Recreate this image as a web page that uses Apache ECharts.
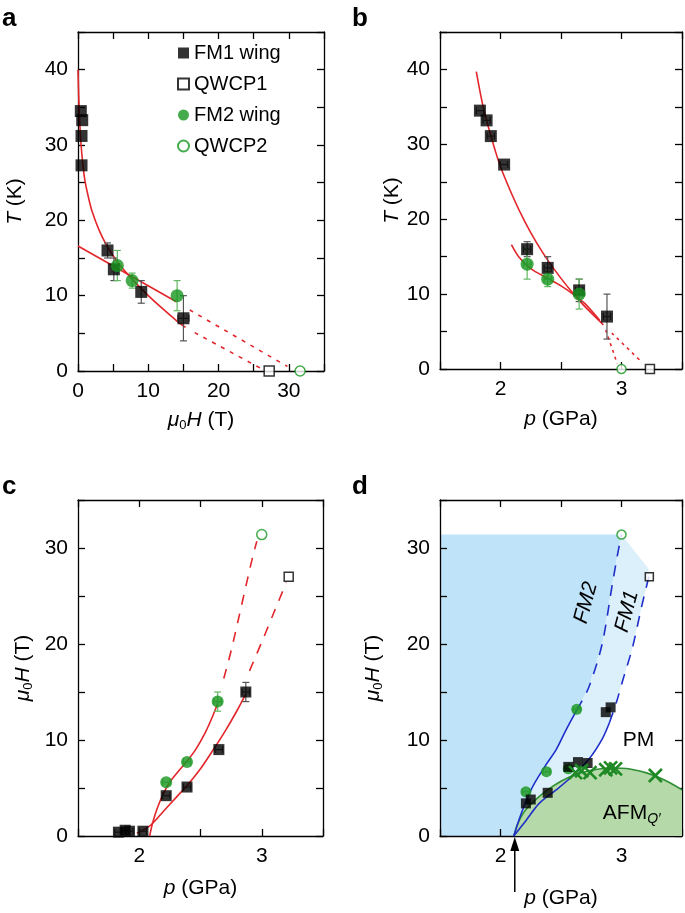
<!DOCTYPE html>
<html><head><meta charset="utf-8">
<script src="https://cdn.jsdelivr.net/npm/echarts@6/dist/echarts.min.js"></script>
<style>html,body{margin:0;padding:0;background:#fff}#c{width:685px;height:913px}</style>
</head><body><div id="c"></div>
<script>
// ---------- Panel a : T vs mu0H ----------
const aFM1_H = [0.4, 0.6, 0.5, 0.5, 4.2, 5.1, 9.0, 15.0];
const aFM1_T = [34.5, 33.3, 31.2, 27.3, 16.0, 13.5, 10.5, 7.0];
const aFM1_Herr = [0, 0, 0, 0, 0, 0, 0, 0.8];
const aFM1_Terr = [0, 0, 0, 0, 1, 1.5, 1.5, 3];
const aFM2_H = [5.6, 7.7, 14.1];
const aFM2_T = [14.0, 12.0, 10.0];
const aFM2_Terr = [2, 1, 2];
const aQWCP1 = [27.2, 0];
const aQWCP2 = [31.6, 0];
const aFit1_H = [0, 0.1, 0.2, 0.4, 0.7, 1, 1.5, 2, 3, 4, 5, 6, 8, 10, 12, 14, 15.3];
const aFit1_T = [40, 36.5, 34, 30.5, 27.3, 25.2, 23.0, 21.2, 18.7, 16.8, 15.3, 14.0, 11.9, 10.0, 8.3, 6.7, 5.8];
const aFit2_H = [0, 14.0];
const aFit2_T = [16.6, 9.2];
const aDash1_H = [16.6, 25.9];
const aDash1_T = [5.1, 0.4];
const aDash2_H = [15.9, 29.8];
const aDash2_T = [8.1, 0.6];

// ---------- Panel b : T vs p ----------
const bFM1_p = [1.83, 1.885, 1.92, 2.03, 2.22, 2.39, 2.65, 2.88];
const bFM1_T = [34.5, 33.2, 31.1, 27.3, 16.0, 13.5, 10.5, 7.0];
const bFM1_Terr = [0, 0, 0, 0, 1, 1.5, 1.5, 3];
const bFM2_p = [2.22, 2.39, 2.65];
const bFM2_T = [14.0, 12.0, 10.0];
const bFM2_Terr = [2, 1, 2];
const bPerr = 0.03;
const bQWCP1 = [3.235, 0];
const bQWCP2 = [3.0, 0];
const bFit1_p = [1.8, 1.85, 1.9, 1.95, 2.0, 2.1, 2.2, 2.3, 2.4, 2.5, 2.6, 2.7, 2.8, 2.85];
const bFit1_T = [39.7, 35.5, 32.3, 29.5, 27.0, 23.1, 19.7, 16.8, 14.3, 12.1, 10.1, 8.3, 6.7, 5.9];
const bFit2_p = [2.09, 2.15, 2.25, 2.39, 2.5, 2.6, 2.7, 2.82];
const bFit2_T = [16.6, 15.0, 13.4, 12.1, 11.1, 10.0, 8.7, 6.5];
const bDash1_p = [2.92, 3.15];
const bDash1_T = [4.8, 1.2];
const bDash2_p = [2.87, 2.965];
const bDash2_T = [5.2, 0.7];

// ---------- Panel c : mu0H vs p ----------
const cFM1_p = [1.83, 1.885, 1.92, 2.03, 2.22, 2.39, 2.65, 2.87];
const cFM1_H = [0.4, 0.6, 0.5, 0.5, 4.2, 5.1, 9.0, 15.0];
const cFM1_Herr = [0, 0, 0, 0, 0, 0, 0, 1];
const cFM2_p = [2.22, 2.39, 2.64];
const cFM2_H = [5.6, 7.7, 14.0];
const cFM2_Herr = [0, 0, 1];
const cQWCP1 = [3.22, 27.0];
const cQWCP2 = [3.0, 31.4];
const cFit1_p = [1.98, 2.03, 2.1, 2.2, 2.3, 2.4, 2.5, 2.6, 2.7, 2.8, 2.87];
const cFit1_H = [0.3, 0.6, 1.2, 2.6, 4.0, 5.4, 7.0, 8.9, 10.9, 13.1, 14.8];
const cFit2_p = [2.085, 2.11, 2.15, 2.2, 2.26, 2.33, 2.39, 2.46, 2.54, 2.6, 2.64];
const cFit2_H = [0, 1.4, 3.0, 4.5, 5.8, 6.9, 7.8, 9.0, 10.8, 12.5, 13.8];
const cDash1_p = [2.9, 3.0, 3.1, 3.2];
const cDash1_H = [17.2, 20.2, 23.3, 26.4];
const cDash2_p = [2.69, 2.75, 2.81, 2.87, 2.93, 2.96];
const cDash2_H = [16.4, 19.3, 22.6, 26.0, 29.3, 30.7];

// ---------- Panel d : phase diagram ----------
const dFM2pts_p = [2.21, 2.38, 2.56, 2.63];
const dFM2pts_H = [4.6, 6.7, 7.0, 13.2];
const dFM1pts_p = [2.21, 2.25, 2.39, 2.56, 2.64, 2.72, 2.87, 2.91];
const dFM1pts_H = [3.4, 3.8, 4.5, 7.2, 7.7, 7.6, 12.9, 13.4];
const dQWCP1 = [3.23, 27.0];
const dQWCP2 = [3.0, 31.4];
const dAFM_p = [2.62, 2.67, 2.74, 2.87, 2.91, 2.95, 3.28];
const dAFM_H = [6.6, 6.8, 6.6, 6.9, 7.1, 7.0, 6.3];
const dFM2sol_p = [2.11, 2.17, 2.26, 2.37, 2.46, 2.54, 2.63];
const dFM2sol_H = [0, 2.3, 5.0, 7.3, 9.0, 11.0, 13.1];
const dFM2dash_p = [2.63, 2.73, 2.84, 2.92, 2.97, 3.0];
const dFM2dash_H = [13.1, 15.5, 20.0, 25.9, 29.5, 31.4];
const dFM1sol_p = [2.11, 2.21, 2.32, 2.46, 2.59, 2.73, 2.84, 2.9];
const dFM1sol_H = [0, 1.6, 3.4, 4.8, 6.2, 8.0, 10.1, 11.8];
const dFM1dash_p = [2.9, 2.96, 3.01, 3.09, 3.17, 3.23];
const dFM1dash_H = [11.8, 14.0, 16.2, 19.6, 24.1, 27.2];
const dDome_p = [2.11, 2.14, 2.2, 2.3, 2.4, 2.5, 2.6, 2.7, 2.8, 2.9, 3.0, 3.1, 3.2, 3.3, 3.4, 3.5];
const dDome_H = [0, 1.2, 2.6, 3.9, 4.9, 5.7, 6.3, 6.7, 6.95, 7.05, 7.05, 6.9, 6.6, 6.15, 5.55, 4.8];
const dFMtop = 31.4;     // upper boundary of FM2 shading
const dFM1corner = [3.22, 27.9];

// ---------- helpers ----------
const FONT = '"Liberation Sans", Arial, Helvetica, sans-serif';
const RED = '#e3262b', BLUE = '#1f2fc9', GREEN = '#17961f', GREENBAR = '#62b862', GREY = '#555';
const zip = (xs, ys) => xs.map((x, i) => [x, ys[i]]);
const zip4 = (xs, ys, ex, ey) => xs.map((x, i) => [x, ys[i], Array.isArray(ex) ? ex[i] : ex, Array.isArray(ey) ? ey[i] : ey]);

function axisBase() {
  return {
    type: 'value',
    axisLine: { show: true, onZero: false, lineStyle: { color: '#000', width: 1.3 } },
    axisTick: { show: true, inside: true, length: 7, lineStyle: { color: '#000', width: 1.3 } },
    splitLine: { show: false },
    axisLabel: { color: '#000', fontSize: 21, fontFamily: FONT, margin: 10 }
  };
}
const lbl10 = v => (Math.round(v) % 10 === 0 ? String(Math.round(v)) : '');
const lblP = v => (Math.abs(v - Math.round(v)) < 1e-6 && v > 1.9 && v < 3.1 ? String(Math.round(v)) : '');
const nameStyle = { fontSize: 21, fontFamily: FONT, color: '#000',
  rich: { i: { fontSize: 21, fontStyle: 'italic', fontFamily: FONT, color: '#000' },
          s: { fontSize: 13, fontFamily: FONT, color: '#000', padding: [10, 0, 0, 0] },
          n: { fontSize: 21, fontFamily: FONT, color: '#000' } } };
const nameH = '{i|μ}{s|0}{i|H}{n| (T)}';
const nameT = '{i|T}{n| (K)}';
const nameP = '{i|p}{n| (GPa)}';

function xBottom(g, min, max, interval, fmt, name, gap) {
  return Object.assign(axisBase(), { gridIndex: g, position: 'bottom', min, max, interval,
    axisLabel: Object.assign(axisBase().axisLabel, { formatter: fmt }),
    name, nameLocation: 'middle', nameGap: gap, nameTextStyle: nameStyle });
}
function xTop(g, min, max, interval) {
  return Object.assign(axisBase(), { gridIndex: g, position: 'top', min, max, interval,
    axisLabel: { show: false } });
}
function yLeft(g, min, max, interval, fmt, name, gap) {
  return Object.assign(axisBase(), { gridIndex: g, position: 'left', min, max, interval,
    axisLabel: Object.assign(axisBase().axisLabel, { formatter: fmt }),
    name, nameLocation: 'middle', nameGap: gap, nameTextStyle: nameStyle });
}
function yRight(g, min, max, interval) {
  return Object.assign(axisBase(), { gridIndex: g, position: 'right', min, max, interval,
    axisLabel: { show: false } });
}

function errSeries(g, data, color) {
  return { type: 'custom', xAxisIndex: g, yAxisIndex: g, data, z: 3, silent: true,
    encode: { x: 0, y: 1 },
    renderItem(params, api) {
      const x = api.value(0), y = api.value(1), ex = api.value(2), ey = api.value(3);
      const cap = 3.5, ch = [];
      const ln = (x1, y1, x2, y2) => ({ type: 'line', shape: { x1, y1, x2, y2 }, style: { stroke: color, lineWidth: 1.2 } });
      if (ey > 0) {
        const p1 = api.coord([x, y - ey]), p2 = api.coord([x, y + ey]);
        ch.push(ln(p1[0], p1[1], p2[0], p2[1]), ln(p1[0] - cap, p1[1], p1[0] + cap, p1[1]), ln(p2[0] - cap, p2[1], p2[0] + cap, p2[1]));
      }
      if (ex > 0) {
        const p1 = api.coord([x - ex, y]), p2 = api.coord([x + ex, y]);
        ch.push(ln(p1[0], p1[1], p2[0], p2[1]), ln(p1[0], p1[1] - cap, p1[0], p1[1] + cap), ln(p2[0], p2[1] - cap, p2[0], p2[1] + cap));
      }
      return { type: 'group', children: ch };
    } };
}
function lineSeries(g, data, color, dashed, dash, z) {
  return { type: 'line', xAxisIndex: g, yAxisIndex: g, data, showSymbol: false, symbol: 'none',
    smooth: 0.3, silent: true, z: z || 2,
    lineStyle: { color, width: 1.6, type: dashed ? dash : 'solid' } };
}
function squares(g, name, data, size, open, z) {
  return { type: 'scatter', name, xAxisIndex: g, yAxisIndex: g, data, symbol: 'rect', symbolSize: size, z: z || 4,
    itemStyle: open ? { color: '#fff', borderColor: '#000', borderWidth: 1.5 } : { color: '#000' } };
}
function circles(g, name, data, size, open, z) {
  return { type: 'scatter', name, xAxisIndex: g, yAxisIndex: g, data, symbol: 'circle', symbolSize: size, z: z || 4,
    itemStyle: open ? { color: '#fff', borderColor: GREEN, borderWidth: 1.5 } : { color: GREEN } };
}
function polySeries(g, pts, fill, z) {
  return { type: 'custom', xAxisIndex: g, yAxisIndex: g, data: [[pts[0][0], pts[0][1]]], z: z, silent: true,
    encode: { x: 0, y: 1 },
    renderItem(params, api) {
      return { type: 'polygon', shape: { points: pts.map(p => api.coord(p)), smooth: 0 }, style: { fill } };
    } };
}
function crossSeries(g, data, color) {
  return { type: 'custom', xAxisIndex: g, yAxisIndex: g, data, z: 5, silent: true, encode: { x: 0, y: 1 },
    renderItem(params, api) {
      const c = api.coord([api.value(0), api.value(1)]), r = 6.5;
      const st = { stroke: color, lineWidth: 2.6 };
      return { type: 'group', children: [
        { type: 'line', shape: { x1: c[0] - r, y1: c[1] - r, x2: c[0] + r, y2: c[1] + r }, style: st },
        { type: 'line', shape: { x1: c[0] - r, y1: c[1] + r, x2: c[0] + r, y2: c[1] - r }, style: st } ] };
    } };
}

// polygons for panel d built from the boundary arrays
const fm2Curve = zip(dFM2sol_p, dFM2sol_H).concat(zip(dFM2dash_p, dFM2dash_H).slice(1));
const fm1Curve = zip(dFM1sol_p, dFM1sol_H).concat(zip(dFM1dash_p, dFM1dash_H).slice(1));
const darkPoly = [[1.5, 0]].concat(fm2Curve, [[1.5, dFMtop]]);
const lightPoly = fm2Curve.concat([dFM1corner], fm1Curve.slice().reverse());

const chart = echarts.init(document.getElementById('c'), null, { renderer: 'canvas' });
const option = {
  animation: false,
  backgroundColor: '#fff',
  textStyle: { fontFamily: FONT },
  grid: [
    { left: 78, top: 32, width: 246, height: 339 },
    { left: 440, top: 32, width: 243, height: 337 },
    { left: 78, top: 500, width: 245, height: 336 },
    { left: 440, top: 500, width: 243, height: 336 }
  ],
  xAxis: [
    xBottom(0, 0, 35, 5, lbl10, nameH, 38),
    xBottom(1, 1.5, 3.5, 0.5, lblP, nameP, 40),
    xBottom(2, 1.5, 3.5, 0.5, lblP, nameP, 42),
    xBottom(3, 1.5, 3.5, 0.5, lblP, nameP, 52),
    xTop(0, 0, 35, 5), xTop(1, 1.5, 3.5, 0.5), xTop(2, 1.5, 3.5, 0.5), xTop(3, 1.5, 3.5, 0.5)
  ],
  yAxis: [
    yLeft(0, 0, 45, 5, lbl10, nameT, 52),
    yLeft(1, 0, 45, 5, lbl10, nameT, 34),
    yLeft(2, 0, 35, 5, lbl10, nameH, 43),
    yLeft(3, 0, 35, 5, lbl10, nameH, 55),
    yRight(0, 0, 45, 5), yRight(1, 0, 45, 5), yRight(2, 0, 35, 5), yRight(3, 0, 35, 5)
  ],
  legend: {
    data: ['FM1 wing', 'QWCP1', 'FM2 wing', 'QWCP2'],
    orient: 'vertical', left: 177, top: 43, padding: 0, itemGap: 11,
    itemWidth: 11, itemHeight: 11, selectedMode: false,
    textStyle: { fontSize: 20, fontFamily: FONT, color: '#000', lineHeight: 19 }
  },
  series: [
    // ---- a ----
    lineSeries(0, zip(aFit1_H, aFit1_T), RED),
    lineSeries(0, zip(aFit2_H, aFit2_T), RED),
    lineSeries(0, zip(aDash1_H, aDash1_T), RED, true, [4, 6]),
    lineSeries(0, zip(aDash2_H, aDash2_T), RED, true, [4, 6]),
    errSeries(0, zip4(aFM1_H, aFM1_T, aFM1_Herr, aFM1_Terr), GREY),
    errSeries(0, zip4(aFM2_H, aFM2_T, 0, aFM2_Terr), GREENBAR),
    squares(0, 'FM1 wing', zip(aFM1_H, aFM1_T), 12),
    squares(0, 'QWCP1', [aQWCP1], 10, true),
    circles(0, 'FM2 wing', zip(aFM2_H, aFM2_T), 13),
    circles(0, 'QWCP2', [aQWCP2], 10, true),
    // ---- b ----
    lineSeries(1, zip(bFit1_p, bFit1_T), RED),
    lineSeries(1, zip(bFit2_p, bFit2_T), RED),
    lineSeries(1, zip(bDash1_p, bDash1_T), RED, true, [3, 4]),
    lineSeries(1, zip(bDash2_p, bDash2_T), RED, true, [3, 4]),
    errSeries(1, zip4(bFM1_p, bFM1_T, bPerr, bFM1_Terr), GREY),
    errSeries(1, zip4(bFM2_p, bFM2_T, bPerr, bFM2_Terr), GREENBAR),
    squares(1, 'FM1 wing', zip(bFM1_p, bFM1_T), 12),
    squares(1, 'QWCP1', [bQWCP1], 9, true),
    circles(1, 'FM2 wing', zip(bFM2_p, bFM2_T), 13),
    circles(1, 'QWCP2', [bQWCP2], 9, true),
    // ---- c ----
    lineSeries(2, zip(cFit1_p, cFit1_H), RED),
    lineSeries(2, zip(cFit2_p, cFit2_H), RED),
    lineSeries(2, zip(cDash1_p, cDash1_H), RED, true, [10, 9]),
    lineSeries(2, zip(cDash2_p, cDash2_H), RED, true, [10, 9]),
    errSeries(2, zip4(cFM1_p, cFM1_H, bPerr, cFM1_Herr), GREY),
    errSeries(2, zip4(cFM2_p, cFM2_H, bPerr, cFM2_Herr), GREENBAR),
    squares(2, 'FM1 wing', zip(cFM1_p, cFM1_H), 11),
    squares(2, 'QWCP1', [cQWCP1], 9, true),
    circles(2, 'FM2 wing', zip(cFM2_p, cFM2_H), 12),
    circles(2, 'QWCP2', [cQWCP2], 10, true),
    // ---- d ----
    polySeries(3, darkPoly, '#bfe3f8', 0),
    polySeries(3, lightPoly, '#dcf0fc', 0),
    { type: 'line', xAxisIndex: 3, yAxisIndex: 3, data: zip(dDome_p, dDome_H), showSymbol: false, symbol: 'none',
      smooth: 0.3, silent: true, z: 1,
      lineStyle: { color: '#2f8f35', width: 1.6 }, areaStyle: { color: '#b5d9a8', opacity: 1, origin: 'start' } },
    lineSeries(3, zip(dFM2sol_p, dFM2sol_H), BLUE, false, null, 2),
    lineSeries(3, zip(dFM2dash_p, dFM2dash_H), BLUE, true, [11, 9], 2),
    lineSeries(3, zip(dFM1sol_p, dFM1sol_H), BLUE, false, null, 2),
    lineSeries(3, zip(dFM1dash_p, dFM1dash_H), BLUE, true, [11, 9], 2),
    errSeries(3, zip4(dFM2pts_p, dFM2pts_H, bPerr, 0), GREENBAR),
    circles(3, 'FM2 wing', zip(dFM2pts_p, dFM2pts_H), 11),
    squares(3, 'FM1 wing', zip(dFM1pts_p, dFM1pts_H), 10),
    crossSeries(3, zip(dAFM_p, dAFM_H), '#1f8a25'),
    squares(3, 'QWCP1', [dQWCP1], 8, true),
    circles(3, 'QWCP2', [dQWCP2], 9, true)
  ]
};
chart.setOption(option);

// text annotations (positioned in data coordinates of panel d)
const toPx = (p) => chart.convertToPixel({ xAxisIndex: 3, yAxisIndex: 3 }, p);
const lFM2 = toPx([2.706, 24.3]), lFM1 = toPx([3.045, 23.4]), lPM = toPx([3.14, 9.96]), lAFM = toPx([3.085, 2.35]);
const arrX = toPx([2.118, 0])[0];
const rot = 75 * Math.PI / 180;
chart.setOption({
  graphic: [
    { type: 'text', left: 2, top: 6, style: { text: 'a', font: 'bold 26px ' + FONT, fill: '#000' } },
    { type: 'text', left: 352, top: 6, style: { text: 'b', font: 'bold 26px ' + FONT, fill: '#000' } },
    { type: 'text', left: 2, top: 474, style: { text: 'c', font: 'bold 26px ' + FONT, fill: '#000' } },
    { type: 'text', left: 352, top: 474, style: { text: 'd', font: 'bold 26px ' + FONT, fill: '#000' } },
    { type: 'text', x: lFM2[0], y: lFM2[1], rotation: rot, z: 10,
      style: { text: 'FM2', font: 'italic 21px ' + FONT, fill: '#000', align: 'center', verticalAlign: 'middle' } },
    { type: 'text', x: lFM1[0], y: lFM1[1], rotation: rot, z: 10,
      style: { text: 'FM1', font: 'italic 21px ' + FONT, fill: '#000', align: 'center', verticalAlign: 'middle' } },
    { type: 'text', x: lPM[0], y: lPM[1], z: 10,
      style: { text: 'PM', font: '21px ' + FONT, fill: '#000', align: 'center', verticalAlign: 'middle' } },
    { type: 'text', x: lAFM[0], y: lAFM[1], z: 10,
      style: { text: '{n|AFM}{q|Q′}', align: 'center', verticalAlign: 'middle',
        rich: { n: { fontSize: 21, fontFamily: FONT, fill: '#000', color: '#000' },
                q: { fontSize: 14, fontStyle: 'italic', fontFamily: FONT, color: '#000', padding: [12, 0, 0, 0] } } } },
    { type: 'line', z: 10, shape: { x1: arrX, y1: 892, x2: arrX, y2: 848 }, style: { stroke: '#000', lineWidth: 1.5 } },
    { type: 'polygon', z: 10, shape: { points: [[arrX, 837], [arrX - 4.5, 851], [arrX + 4.5, 851]] }, style: { fill: '#000' } }
  ]
});
</script></body></html>
